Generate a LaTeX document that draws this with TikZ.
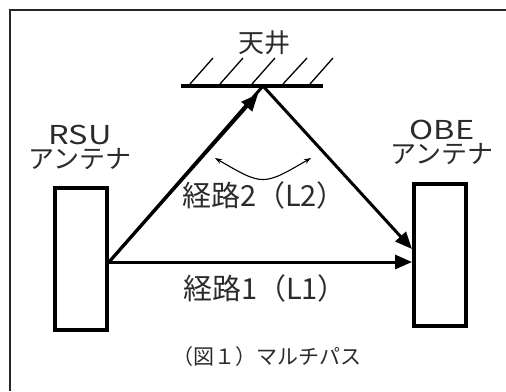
\documentclass[tikz,border=0pt]{standalone}
\usepackage{fontspec}
\setmainfont{Noto Sans CJK JP}
\usetikzlibrary{arrows.meta}
\definecolor{txt}{HTML}{2b2b2b}
\newcommand{\widelat}[1]{\scalebox{1.25}[1]{#1}}
\begin{document}
\begin{tikzpicture}[x=1pt,y=-1pt,
  antenna/.style={draw=black,line width=4pt,minimum width=52pt,minimum height=142pt,inner sep=0pt},
  ray/.style={line width=3pt,-{Triangle[length=17pt,width=14pt]}},
  lbl/.style={text=txt,font=\fontsize{26}{28}\selectfont,inner sep=0pt,align=center},
  pathlbl/.style={text=txt,font=\fontsize{29}{31}\selectfont,inner sep=0pt},
  hatch/.style={line width=1.3pt}]
\useasboundingbox (0,0) rectangle (506,391);
% frame
\draw[line width=2pt,draw=black!85] (10,391) -- (10,10) -- (506,10);
% antennas
\node[antenna] (rsu) at (81,259) {};
\node[antenna] (obe) at (440,255) {};
% ceiling
\coordinate (cl) at (181,86);
\coordinate (cr) at (323,86);
\coordinate (refl) at (263,86);
\draw[line width=3.5pt] (cl) -- (cr);
\foreach \x/\t in {190/213,220/243,252/275,283/307,310/333}
  \draw[hatch] (\x,84) -- (\t,58);
\node[lbl] (ceil) at (264,43) {天井};
% labels
\node[lbl] (rsut) at (80,147) {\widelat{RSU}\\[-4pt]アンテナ};
\node[lbl] (obet) at (442,142) {\widelat{OBE}\\[-4pt]アンテナ};
% rays
\coordinate (src) at (rsu.east |- 0,262);
\coordinate (hit2) at (258,94);
\draw[ray] (src) -- (hit2);
\draw[line width=3pt] (src) -- (refl);
\draw[ray] (refl) -- (obe.west |- 0,249);
\draw[ray] (src) -- (obe.west |- 0,262);
% angle double arrow
\coordinate (da) at (215,158);
\coordinate (db) at (311,158);
\draw[line width=1.1pt,{Stealth[length=7pt,width=5pt]}-{Stealth[length=7pt,width=5pt]}] (da) .. controls (263,186) .. (db);
% path labels
\node[pathlbl] (l2) at (264,195) {経路2（L2）};
\node[pathlbl] (l1) at (265,288) {経路1（L1）};
\node[text=txt,font=\fontsize{21}{23}\selectfont,inner sep=0pt] (cap) at (267,357) {（図１）マルチパス};
\end{tikzpicture}
\end{document}
